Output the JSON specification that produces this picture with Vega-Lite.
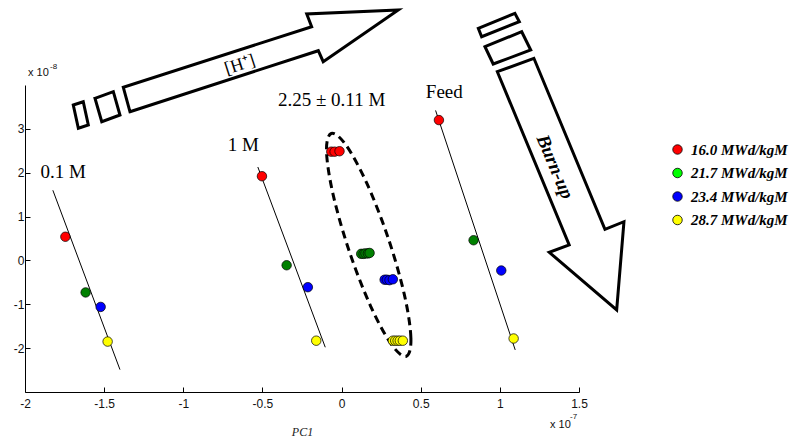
{
  "$schema": "https://vega.github.io/schema/vega-lite/v6.json",
  "width": 554,
  "height": 307,
  "autosize": {"type": "none"},
  "padding": {"left": 25, "top": 85, "right": 214, "bottom": 47},
  "background": "white",
  "config": {
    "view": {"stroke": null},
    "axis": {"grid": false, "domainColor": "black", "domainWidth": 1, "tickColor": "black", "tickWidth": 1, "labelColor": "#111", "labelFont": "Liberation Sans", "labelFontSize": 12, "labelFlush": false}
  },
  "resolve": {"scale": {"color": "independent"}, "legend": {"color": "independent"}},
  "datasets": {
    "pts": [
      {"group": "0.1 M", "burnup": "16.0 MWd/kgM", "x": -1.745, "y": 0.54},
      {"group": "0.1 M", "burnup": "21.7  MWd/kgM", "x": -1.617, "y": -0.73},
      {"group": "0.1 M", "burnup": "23.4  MWd/kgM", "x": -1.522, "y": -1.06},
      {"group": "0.1 M", "burnup": "28.7  MWd/kgM", "x": -1.478, "y": -1.85},
      {"group": "1 M", "burnup": "16.0 MWd/kgM", "x": -0.503, "y": 1.92},
      {"group": "1 M", "burnup": "21.7  MWd/kgM", "x": -0.347, "y": -0.11},
      {"group": "1 M", "burnup": "23.4  MWd/kgM", "x": -0.213, "y": -0.61},
      {"group": "1 M", "burnup": "28.7  MWd/kgM", "x": -0.16, "y": -1.83},
      {"group": "2.25 M", "burnup": "16.0 MWd/kgM", "x": -0.065, "y": 2.48},
      {"group": "2.25 M", "burnup": "16.0 MWd/kgM", "x": -0.044, "y": 2.48},
      {"group": "2.25 M", "burnup": "16.0 MWd/kgM", "x": -0.013, "y": 2.49},
      {"group": "2.25 M", "burnup": "21.7  MWd/kgM", "x": 0.124, "y": 0.15},
      {"group": "2.25 M", "burnup": "21.7  MWd/kgM", "x": 0.139, "y": 0.15},
      {"group": "2.25 M", "burnup": "21.7  MWd/kgM", "x": 0.151, "y": 0.16},
      {"group": "2.25 M", "burnup": "21.7  MWd/kgM", "x": 0.166, "y": 0.16},
      {"group": "2.25 M", "burnup": "21.7  MWd/kgM", "x": 0.177, "y": 0.17},
      {"group": "2.25 M", "burnup": "23.4  MWd/kgM", "x": 0.272, "y": -0.44},
      {"group": "2.25 M", "burnup": "23.4  MWd/kgM", "x": 0.286, "y": -0.44},
      {"group": "2.25 M", "burnup": "23.4  MWd/kgM", "x": 0.303, "y": -0.45},
      {"group": "2.25 M", "burnup": "23.4  MWd/kgM", "x": 0.324, "y": -0.43},
      {"group": "2.25 M", "burnup": "28.7  MWd/kgM", "x": 0.324, "y": -1.83},
      {"group": "2.25 M", "burnup": "28.7  MWd/kgM", "x": 0.339, "y": -1.83},
      {"group": "2.25 M", "burnup": "28.7  MWd/kgM", "x": 0.354, "y": -1.83},
      {"group": "2.25 M", "burnup": "28.7  MWd/kgM", "x": 0.368, "y": -1.83},
      {"group": "2.25 M", "burnup": "28.7  MWd/kgM", "x": 0.387, "y": -1.83},
      {"group": "Feed", "burnup": "16.0 MWd/kgM", "x": 0.615, "y": 3.2},
      {"group": "Feed", "burnup": "21.7  MWd/kgM", "x": 0.834, "y": 0.46},
      {"group": "Feed", "burnup": "23.4  MWd/kgM", "x": 1.009, "y": -0.23},
      {"group": "Feed", "burnup": "28.7  MWd/kgM", "x": 1.087, "y": -1.78}
    ],
    "legendKeys": [
      {"burnup": "16.0 MWd/kgM"},
      {"burnup": "21.7  MWd/kgM"},
      {"burnup": "23.4  MWd/kgM"},
      {"burnup": "28.7  MWd/kgM"}
    ],
    "fits": [
      {"group": "0.1 M", "x": -1.824, "y": 1.6},
      {"group": "0.1 M", "x": -1.4, "y": -2.49},
      {"group": "1 M", "x": -0.529, "y": 2.13},
      {"group": "1 M", "x": -0.103, "y": -1.98},
      {"group": "Feed", "x": 0.594, "y": 3.42},
      {"group": "Feed", "x": 1.097, "y": -2.04}
    ],
    "ellipse": [
      {"i": 0, "x": 0.409, "y": -2.185},
      {"i": 1, "x": 0.438, "y": -1.769},
      {"i": 2, "x": 0.397, "y": -0.785},
      {"i": 3, "x": 0.295, "y": 0.506},
      {"i": 4, "x": 0.16, "y": 1.755},
      {"i": 5, "x": 0.028, "y": 2.629},
      {"i": 6, "x": -0.065, "y": 2.895},
      {"i": 7, "x": -0.095, "y": 2.478},
      {"i": 8, "x": -0.053, "y": 1.494},
      {"i": 9, "x": 0.049, "y": 0.204},
      {"i": 10, "x": 0.184, "y": -1.046},
      {"i": 11, "x": 0.316, "y": -1.92}
    ],
    "shapes": [
      {"shape": "hArrow", "i": 1, "x": -1.337, "y": 3.391},
      {"shape": "hArrow", "i": 2, "x": -0.147, "y": 4.782},
      {"shape": "hArrow", "i": 3, "x": -0.116, "y": 4.531},
      {"shape": "hArrow", "i": 4, "x": 0.358, "y": 5.71},
      {"shape": "hArrow", "i": 5, "x": -0.22, "y": 5.619},
      {"shape": "hArrow", "i": 6, "x": -0.189, "y": 5.329},
      {"shape": "hArrow", "i": 7, "x": -1.379, "y": 3.948},
      {"shape": "hRectA", "i": 1, "x": -1.558, "y": 3.697},
      {"shape": "hRectA", "i": 2, "x": -1.442, "y": 3.847},
      {"shape": "hRectA", "i": 3, "x": -1.4, "y": 3.316},
      {"shape": "hRectA", "i": 4, "x": -1.515, "y": 3.163},
      {"shape": "hRectB", "i": 1, "x": -1.695, "y": 3.544},
      {"shape": "hRectB", "i": 2, "x": -1.632, "y": 3.619},
      {"shape": "hRectB", "i": 3, "x": -1.6, "y": 3.088},
      {"shape": "hRectB", "i": 4, "x": -1.663, "y": 3.013},
      {"shape": "bArrow", "i": 1, "x": 0.984, "y": 4.303},
      {"shape": "bArrow", "i": 2, "x": 1.215, "y": 4.609},
      {"shape": "bArrow", "i": 3, "x": 1.664, "y": 0.71},
      {"shape": "bArrow", "i": 4, "x": 1.784, "y": 0.883},
      {"shape": "bArrow", "i": 5, "x": 1.738, "y": -1.13},
      {"shape": "bArrow", "i": 6, "x": 1.312, "y": 0.186},
      {"shape": "bArrow", "i": 7, "x": 1.438, "y": 0.352},
      {"shape": "bRectC", "i": 1, "x": 0.906, "y": 4.873},
      {"shape": "bRectC", "i": 2, "x": 1.138, "y": 5.215},
      {"shape": "bRectC", "i": 3, "x": 1.195, "y": 4.798},
      {"shape": "bRectC", "i": 4, "x": 0.958, "y": 4.479},
      {"shape": "bRectD", "i": 1, "x": 0.864, "y": 5.293},
      {"shape": "bRectD", "i": 2, "x": 1.095, "y": 5.635},
      {"shape": "bRectD", "i": 3, "x": 1.123, "y": 5.443},
      {"shape": "bRectD", "i": 4, "x": 0.885, "y": 5.101}
    ],
    "groupLabels": [
      {"text": "0.1 M", "x": -1.758, "y": 2.023},
      {"text": "1 M", "x": -0.621, "y": 2.632},
      {"text": "Feed", "x": 0.649, "y": 3.847},
      {"text": "2.25 ± 0.11 M", "x": -0.063, "y": 3.658}
    ],
    "expBase": [
      {"text": "x 10", "x": -1.981, "y": 4.267},
      {"text": "x 10", "x": 1.317, "y": -3.752}
    ],
    "expSup": [
      {"text": "-8", "x": -1.842, "y": 4.417},
      {"text": "-7", "x": 1.443, "y": -3.563}
    ],
    "hLabel": [{"text": "[H⁺]", "x": -0.642, "y": 4.456}],
    "bLabel": [{"text": "Burn-up", "x": 1.348, "y": 2.137}]
  },
  "encoding": {
    "x": {
      "field": "x", "type": "quantitative",
      "scale": {"domain": [-2, 1.5], "nice": false, "zero": false},
      "axis": {"values": [-2, -1.5, -1, -0.5, 0, 0.5, 1, 1.5], "labelExpr": "datum.value + ''", "tickSize": -5, "labelPadding": 11, "title": "PC1", "titleFont": "Liberation Serif", "titleFontStyle": "italic", "titleFontWeight": "normal", "titleFontSize": 12, "titleColor": "#222", "titlePadding": 17}
    },
    "y": {
      "field": "y", "type": "quantitative",
      "scale": {"domain": [-3, 4], "nice": false, "zero": false},
      "axis": {"values": [-2, -1, 0, 1, 2, 3], "labelExpr": "datum.value + ''", "tickSize": -5, "labelPadding": 6, "title": null}
    }
  },
  "layer": [
    {
      "data": {"name": "shapes"},
      "mark": {"type": "line", "interpolate": "linear-closed", "color": "black", "strokeWidth": 3, "clip": false, "strokeJoin": "miter"},
      "encoding": {"detail": {"field": "shape"}, "order": {"field": "i", "type": "quantitative"}}
    },
    {
      "data": {"name": "ellipse"},
      "mark": {"type": "line", "interpolate": "cardinal-closed", "color": "black", "strokeWidth": 3, "strokeDash": [8, 5], "clip": false},
      "encoding": {"order": {"field": "i", "type": "quantitative"}}
    },
    {
      "data": {"name": "fits"},
      "mark": {"type": "line", "color": "black", "strokeWidth": 1, "clip": false},
      "encoding": {"detail": {"field": "group"}}
    },
    {
      "data": {"name": "pts"},
      "mark": {"type": "point", "filled": true, "size": 90, "stroke": "black", "strokeWidth": 0.7, "opacity": 1, "clip": false},
      "encoding": {
        "color": {
          "field": "burnup", "type": "nominal",
          "scale": {"domain": ["16.0 MWd/kgM", "21.7  MWd/kgM", "23.4  MWd/kgM", "28.7  MWd/kgM"], "range": ["#ff0000", "#008000", "#0000ff", "#ffff00"]},
          "legend": null
        }
      }
    },
    {
      "data": {"name": "legendKeys"},
      "mark": {"type": "point", "filled": true, "size": 90, "stroke": "black", "strokeWidth": 0.7, "opacity": 1, "clip": false},
      "encoding": {
        "color": {
          "field": "burnup", "type": "nominal",
          "scale": {"domain": ["16.0 MWd/kgM", "21.7  MWd/kgM", "23.4  MWd/kgM", "28.7  MWd/kgM"], "range": ["#ff0000", "#00ff00", "#0000ff", "#ffff00"]},
          "legend": {
            "orient": "none", "legendX": 645, "legendY": 57, "title": null, "padding": 0,
            "symbolType": "circle", "symbolSize": 90, "symbolStrokeColor": "black", "symbolStrokeWidth": 0.8, "symbolOpacity": 1,
            "labelFont": "Liberation Serif", "labelFontStyle": "italic", "labelFontWeight": "bold", "labelFontSize": 15, "labelColor": "black",
            "rowPadding": 7.5, "labelOffset": 6
          }
        }
      }
    },
    {
      "data": {"name": "groupLabels"},
      "mark": {"type": "text", "font": "Liberation Serif", "fontSize": 19, "color": "black", "align": "center", "baseline": "middle", "clip": false},
      "encoding": {"text": {"field": "text"}}
    },
    {
      "data": {"name": "expBase"},
      "mark": {"type": "text", "font": "Liberation Sans", "fontSize": 11, "color": "#111", "align": "left", "baseline": "middle", "clip": false},
      "encoding": {"text": {"field": "text"}}
    },
    {
      "data": {"name": "expSup"},
      "mark": {"type": "text", "font": "Liberation Sans", "fontSize": 8, "color": "#111", "align": "left", "baseline": "middle", "clip": false},
      "encoding": {"text": {"field": "text"}}
    },
    {
      "data": {"name": "hLabel"},
      "mark": {"type": "text", "font": "Liberation Serif", "fontSize": 18, "color": "black", "align": "center", "baseline": "middle", "angle": -18, "clip": false},
      "encoding": {"text": {"field": "text"}}
    },
    {
      "data": {"name": "bLabel"},
      "mark": {"type": "text", "font": "Liberation Serif", "fontSize": 19, "fontStyle": "italic", "fontWeight": "bold", "color": "black", "align": "center", "baseline": "middle", "angle": 67, "clip": false},
      "encoding": {"text": {"field": "text"}}
    }
  ]
}
